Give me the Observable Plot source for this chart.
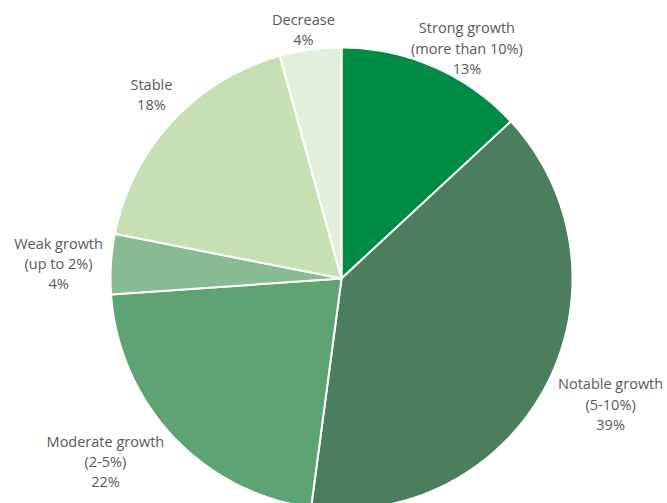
<!DOCTYPE html>
<html>
<head>
<meta charset="utf-8">
<script src="https://cdn.jsdelivr.net/npm/d3@7"></script>
<script src="https://cdn.jsdelivr.net/npm/@observablehq/plot@0.6"></script>
<style>
  html, body { margin: 0; padding: 0; background: #fff; }
  #chart { width: 667px; height: 503px; overflow: hidden; }
</style>
</head>
<body>
<div id="chart"></div>
<script>
// Data
const categories = [
  "Strong growth\n(more than 10%)",
  "Notable growth\n(5-10%)",
  "Moderate growth\n(2-5%)",
  "Weak growth\n(up to 2%)",
  "Stable",
  "Decrease"
];
const shares = [13.1, 39.0, 21.8, 4.2, 17.6, 4.3];
const percentLabels = ["13%", "39%", "22%", "4%", "18%", "4%"];

// Styles / layout (kept separate from data)
const colors = ["#008C44", "#4A7E5C", "#5DA374", "#87BB93", "#C6E0B4", "#E2EFDA"];
const labelPos = [
  [0.543, 1.002], [1.165, -0.540], [-1.022, -0.787],
  [-1.225, 0.070], [-0.823, 0.802], [-0.165, 1.082]
];

const arcs = d3.pie().sort(null).value(d => d)(shares);

// Build slice outlines in unit coordinates (angle clockwise from 12 o'clock)
const pts = [];
arcs.forEach((a, i) => {
  const key = categories[i];
  pts.push({key, x: 0, y: 0});
  const n = Math.max(2, Math.ceil((a.endAngle - a.startAngle) / (Math.PI / 180)));
  for (let k = 0; k <= n; k++) {
    const t = a.startAngle + (a.endAngle - a.startAngle) * k / n;
    pts.push({key, x: Math.sin(t), y: Math.cos(t)});
  }
  pts.push({key, x: 0, y: 0});
});

const labels = categories.map((c, i) => ({
  text: c + "\n" + percentLabels[i],
  x: labelPos[i][0],
  y: labelPos[i][1]
}));

const cx = 341, cy = 278, r = 231;
const plot = Plot.plot({
  width: 667,
  height: 503,
  margin: 0,
  style: {background: "#fff"},
  x: {domain: [-1, 1], range: [cx - r, cx + r], axis: null},
  y: {domain: [-1, 1], range: [cy + r, cy - r], axis: null},
  color: {domain: categories, range: colors},
  marks: [
    Plot.line(pts, {x: "x", y: "y", z: "key", fill: "key", stroke: "white", strokeWidth: 2, strokeLinejoin: "round", curve: "linear"}),
    Plot.text(labels, {x: "x", y: "y", text: "text", fill: "#595959", fontSize: 14.5, lineHeight: 1.4, fontFamily: "'Open Sans', Lato, sans-serif", textAnchor: "middle"})
  ]
});
document.getElementById("chart").appendChild(plot);
</script>
</body>
</html>
